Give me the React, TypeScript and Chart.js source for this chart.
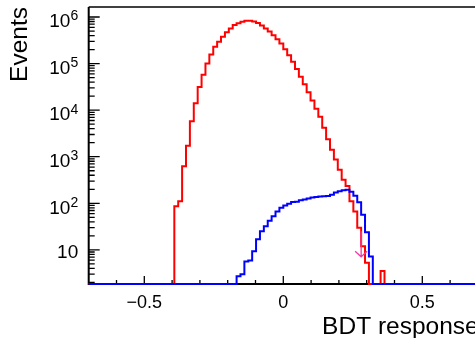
import React, { useEffect, useRef } from 'react';
import { Chart, registerables } from 'chart.js';

Chart.register(...registerables);

// ---- data -------------------------------------------------------------
const X_MIN = -0.7;
const X_MAX = 0.7;
const N_BINS = 100;
const Y_MIN = 1.85;
const Y_MAX = 1.64e6;

// background (red) histogram, bins starting at index RED_FIRST_BIN
const RED_FIRST_BIN = 22;
const RED_VALUES = [
  86, 110, 622, 1710, 5750, 14000, 31500, 57800, 101000, 157000,
  230000, 295000, 378000, 468000, 569000, 673000, 736000, 793000, 833000, 833000,
  805000, 744000, 661000, 569000, 491000, 406000, 334000, 270000, 202000, 151000,
  109000, 76600, 52300, 36100, 24300, 16100, 10700, 7250, 4210, 2360,
  1420, 867, 528, 320, 235, 110, 67, 30, 12, 5.3,
  0, 0, 0, 3.5,
];

// signal (blue) histogram, bins starting at index BLUE_FIRST_BIN
const BLUE_FIRST_BIN = 38;
const BLUE_VALUES = [
  2.7, 3.0, 5.6, 5.9, 9.3, 17, 25, 32, 42, 53,
  67, 80, 90, 98, 106, 108, 116, 120, 127, 133,
  137, 140, 142, 143, 152, 170, 182, 190, 195, 178,
  145, 105, 57, 24, 7.2,
];

// cut arrow
const CUT_X = 0.28;
const ARROW_FROM = 25;
const ARROW_TO = 7.1;

// axis ticks / labels
const Y_DECADES = [1, 2, 3, 4, 5, 6];
const X_MAJOR_TICKS = [-0.5, 0, 0.5];
const X_MINOR_TICKS = [-0.6, -0.4, -0.3, -0.2, -0.1, 0.1, 0.2, 0.3, 0.4, 0.6];
const X_TITLE = 'BDT response';
const Y_TITLE = 'Events';

// ---- layout -----------------------------------------------------------
const CANVAS_W = 482;
const CANVAS_H = 338;
const FONT = '"Liberation Sans", Arial, Helvetica, sans-serif';

function histPoints(first: number, values: number[]) {
  const pts: { x: number; y: number }[] = [];
  const w = (X_MAX - X_MIN) / N_BINS;
  let last = Y_MIN;
  for (let k = 0; k < N_BINS; k++) {
    const i = k - first;
    const v = i >= 0 && i < values.length ? values[i] : 0;
    const y = v > Y_MIN ? v : Y_MIN;
    pts.push({ x: X_MIN + k * w, y });
    last = y;
  }
  pts.push({ x: X_MAX, y: last });
  return pts;
}

const axesPlugin = {
  id: 'rootAxes',
  beforeDatasetsDraw(chart: any) {
    const { ctx, chartArea: a, scales } = chart;
    const xs = scales.x;
    const ys = scales.y;
    ctx.save();
    ctx.strokeStyle = '#000';
    ctx.fillStyle = '#000';

    // frame
    ctx.lineWidth = 1.6;
    ctx.beginPath();
    ctx.moveTo(a.left, a.top);
    ctx.lineTo(a.right, a.top);
    ctx.stroke();
    ctx.lineWidth = 2;
    ctx.beginPath();
    ctx.moveTo(a.left, a.top);
    ctx.lineTo(a.left, a.bottom);
    ctx.lineTo(a.right, a.bottom);
    ctx.stroke();

    // y ticks
    ctx.lineWidth = 1.3;
    ctx.beginPath();
    for (let n = 0; n <= 6; n++) {
      for (let m = 1; m <= 9; m++) {
        const v = m * Math.pow(10, n);
        if (v < Y_MIN || v > Y_MAX) continue;
        const py = ys.getPixelForValue(v);
        const len = m === 1 ? 11 : 6;
        ctx.moveTo(a.left, py);
        ctx.lineTo(a.left + len, py);
      }
    }
    // x ticks
    for (const t of X_MAJOR_TICKS) {
      const px = xs.getPixelForValue(t);
      ctx.moveTo(px, a.bottom);
      ctx.lineTo(px, a.bottom - 8);
    }
    for (const t of X_MINOR_TICKS) {
      const px = xs.getPixelForValue(t);
      ctx.moveTo(px, a.bottom);
      ctx.lineTo(px, a.bottom - 4);
    }
    ctx.stroke();

    // y labels
    const labelRight = a.left - 10.5;
    ctx.textAlign = 'right';
    ctx.textBaseline = 'alphabetic';
    for (const n of Y_DECADES) {
      const py = ys.getPixelForValue(Math.pow(10, n));
      if (n === 1) {
        ctx.font = `19px ${FONT}`;
        ctx.fillText('10', labelRight, py + 8.3);
      } else {
        const e = String(n);
        ctx.font = `14px ${FONT}`;
        const ew = ctx.measureText(e).width;
        ctx.fillText(e, labelRight, py + 3.4);
        ctx.font = `19px ${FONT}`;
        ctx.fillText('10', labelRight - ew, py + 10.3);
      }
    }

    // x labels
    ctx.font = `18px ${FONT}`;
    ctx.textAlign = 'center';
    for (const t of X_MAJOR_TICKS) {
      const px = xs.getPixelForValue(t);
      const s = t < 0 ? '\u2212' + String(-t) : String(t);
      ctx.fillText(s, px, a.bottom + 24);
    }

    // titles
    ctx.font = `24.5px ${FONT}`;
    ctx.textAlign = 'right';
    ctx.fillText(X_TITLE, a.right + 0.8, a.bottom + 49.5);
    ctx.save();
    ctx.translate(26.5, a.top);
    ctx.rotate(-Math.PI / 2);
    ctx.fillText(Y_TITLE, 0, 0);
    ctx.restore();

    ctx.restore();
  },
  afterDatasetsDraw(chart: any) {
    const { ctx, scales } = chart;
    const px = scales.x.getPixelForValue(CUT_X);
    const y0 = scales.y.getPixelForValue(ARROW_FROM);
    const y1 = scales.y.getPixelForValue(ARROW_TO);
    ctx.save();
    ctx.strokeStyle = '#f03ca8';
    ctx.lineWidth = 1.3;
    ctx.beginPath();
    ctx.moveTo(px, y0);
    ctx.lineTo(px, y1);
    ctx.moveTo(px - 6, y1 - 5.6);
    ctx.lineTo(px, y1);
    ctx.lineTo(px + 6, y1 - 5.6);
    ctx.stroke();
    ctx.restore();
  },
};

export default function App() {
  const ref = useRef<HTMLCanvasElement | null>(null);

  useEffect(() => {
    if (!ref.current) return;
    const chart = new Chart(ref.current, {
      type: 'line',
      data: {
        datasets: [
          {
            label: 'background',
            data: histPoints(RED_FIRST_BIN, RED_VALUES),
            borderColor: '#ff0000',
            borderWidth: 2,
            stepped: 'before',
            fill: false,
            pointRadius: 0,
            clip: 3,
            order: 2,
          },
          {
            label: 'signal',
            data: histPoints(BLUE_FIRST_BIN, BLUE_VALUES),
            borderColor: '#0000ff',
            borderWidth: 2,
            stepped: 'before',
            fill: false,
            pointRadius: 0,
            clip: 3,
            order: 1,
          },
        ],
      },
      options: {
        animation: false,
        responsive: true,
        maintainAspectRatio: false,
        layout: { padding: { left: 88.7, top: 7, right: CANVAS_W - 477.9, bottom: 54 } },
        scales: {
          x: { type: 'linear', min: X_MIN, max: X_MAX, display: false },
          y: { type: 'logarithmic', min: Y_MIN, max: Y_MAX, display: false },
        },
        plugins: {
          legend: { display: false },
          tooltip: { enabled: false },
        },
        elements: { line: { tension: 0, borderJoinStyle: 'miter' } },
      },
      plugins: [axesPlugin],
    } as any);
    return () => chart.destroy();
  }, []);

  return (
    <div
      style={{
        position: 'fixed',
        left: 0,
        top: 0,
        width: 475,
        height: CANVAS_H,
        overflow: 'hidden',
        background: '#fff',
      }}
    >
      <div style={{ position: 'relative', width: CANVAS_W, height: CANVAS_H }}>
        <canvas ref={ref} />
      </div>
    </div>
  );
}
